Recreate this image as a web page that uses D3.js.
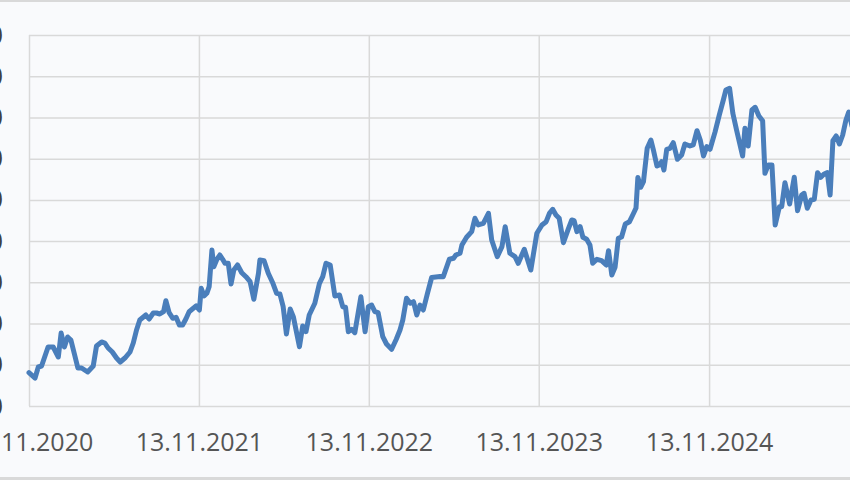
<!DOCTYPE html>
<html>
<head>
<meta charset="utf-8">
<script src="https://cdn.jsdelivr.net/npm/d3@7"></script>
<style>
  html, body { margin: 0; padding: 0; background: #f9fafc; }
  svg { display: block; }
</style>
</head>
<body>
<svg id="chart" width="850" height="480"></svg>
<script>
// ---- data ----
const startDate = "2020-11-13";
const endDate = "2025-11-13";
// days since 13.11.2020
const dayOffsets = [0,13,20,27,41,52,63,69,76,83,90,97,105,113,126,138,145,156,163,170,179,188,196,206,217,224,231,238,251,258,267,274,281,289,294,301,309,316,323,330,337,344,353,359,366,370,376,382,387,393,397,403,410,416,421,428,434,440,448,457,466,475,483,493,496,505,514,524,532,539,546,553,561,568,581,588,595,602,614,624,631,638,647,657,667,674,680,686,693,700,713,722,729,736,743,750,760,768,779,789,797,803,811,819,826,833,840,847,856,865,883,890,903,912,917,926,930,940,951,958,965,976,987,994,1006,1016,1023,1033,1044,1051,1064,1078,1091,1102,1111,1118,1125,1132,1139,1148,1159,1166,1171,1177,1184,1190,1198,1205,1211,1220,1230,1240,1245,1252,1259,1266,1273,1281,1290,1298,1304,1308,1314,1320,1328,1336,1341,1349,1354,1359,1364,1370,1377,1384,1393,1402,1409,1420,1427,1435,1442,1449,1456,1463,1474,1483,1492,1497,1505,1512,1520,1533,1538,1545,1553,1560,1568,1576,1581,1588,1596,1603,1612,1617,1624,1634,1644,1651,1660,1665,1672,1680,1687,1694,1701,1708,1715,1721,1727,1734,1741,1748,1755,1761,1768,1777];
const values = [8.08,6.79,9.46,9.70,14.31,14.31,11.89,17.71,14.31,16.74,16.01,12.86,9.22,9.22,8.25,9.70,14.56,15.53,15.28,14.07,13.10,11.64,10.67,11.64,13.10,15.28,18.44,20.86,22.08,21.11,22.56,22.56,22.32,22.88,25.55,22.63,21.28,21.52,19.65,19.65,21.11,22.88,23.70,24.26,23.29,28.55,26.69,27.34,28.94,37.85,33.79,35.42,36.63,35.59,34.62,34.62,29.60,32.99,34.21,32.34,31.37,30.16,25.89,32.19,35.42,35.25,32.19,29.77,27.34,27.17,24.09,17.47,23.53,21.59,14.39,19.41,18.03,22.08,24.92,29.77,31.37,34.62,34.21,26.69,26.93,24.09,23.94,18.03,18.61,17.78,26.52,18.03,24.09,24.50,22.88,22.63,16.81,15.04,13.76,16.18,18.44,20.86,26.13,24.92,25.30,22.08,24.50,23.29,27.34,31.17,31.42,31.37,35.59,35.83,36.63,37.05,39.06,40.93,42.29,45.54,43.91,44.32,46.75,40.27,36.22,38.65,43.50,37.05,36.22,34.62,38.02,32.99,41.90,43.91,44.71,46.75,47.72,46.34,45.54,39.62,43.11,45.12,44.95,42.29,43.50,40.93,40.44,39.06,34.62,35.59,35.25,34.21,37.68,31.78,33.65,40.68,41.00,44.15,44.71,46.58,48.03,55.43,53.06,54.42,62.52,64.53,62.28,58.22,58.47,59.27,57.25,62.28,62.52,63.88,59.85,60.89,63.56,63.08,63.32,66.79,64.53,60.65,62.91,62.28,66.55,70.60,74.41,76.66,77.07,71.01,66.96,60.65,67.37,63.08,71.81,72.46,70.35,69.21,56.45,58.47,58.47,43.91,48.35,48.35,54.17,49.01,55.48,47.38,51.19,51.60,47.96,49.98,50.15,56.60,55.48,56.28,56.60,51.19,64.36,65.50,63.56,65.74,69.38,71.32,67.93,69.87];
const yTicks = [0,10,20,30,40,50,60,70,80,90];
const xTickLabels = ["13.11.2020","13.11.2021","13.11.2022","13.11.2023","13.11.2024"];

// ---- layout ----
const W = 850, H = 480;
const plot = { left: 29, right: 879, top: 35, bottom: 406 };
const gridColor = "#d9d9d9";
const textColor = "#555555";
const lineColor = "#4a7ebb";
const font = "'Open Sans', 'Liberation Sans', sans-serif";

const parse = d3.timeParse("%Y-%m-%d");
const parseLabel = d3.timeParse("%d.%m.%Y");
const t0 = parse(startDate), t1 = parse(endDate);
const data = dayOffsets.map((d, i) => ({ date: d3.timeDay.offset(t0, d), value: values[i] }));
const xTicks = xTickLabels.map(parseLabel);

const x = d3.scaleTime().domain([t0, t1]).range([plot.left, plot.right]);
const y = d3.scaleLinear().domain([0, 90]).range([plot.bottom, plot.top]);

const svg = d3.select("#chart");
svg.append("rect").attr("width", W).attr("height", H).attr("fill", "#f9fafc");

// horizontal gridlines
svg.append("g")
  .attr("transform", `translate(${plot.left},0)`)
  .call(d3.axisLeft(y).tickValues(yTicks).tickSize(-(plot.right - plot.left)).tickFormat(""))
  .call(g => g.select(".domain").remove())
  .call(g => g.selectAll(".tick line").attr("stroke", gridColor).attr("stroke-width", 1.5));

// vertical gridlines
svg.append("g")
  .attr("transform", `translate(0,${plot.bottom})`)
  .call(d3.axisBottom(x).tickValues(xTicks).tickSize(-(plot.bottom - plot.top)).tickFormat(""))
  .call(g => g.select(".domain").remove())
  .call(g => g.selectAll(".tick line").attr("stroke", gridColor).attr("stroke-width", 1.5));

// y labels (right-aligned, mostly outside the picture, as in the reference)
svg.append("g")
  .attr("transform", `translate(3,0)`)
  .call(d3.axisLeft(y).tickValues(yTicks).tickSize(0).tickPadding(0))
  .call(g => g.select(".domain").remove())
  .call(g => g.selectAll("text").attr("fill", "#404040").attr("font-size", 25).attr("font-family", font));

// x labels
svg.append("g")
  .attr("transform", `translate(0,${plot.bottom})`)
  .call(d3.axisBottom(x).tickValues(xTicks).tickSize(0).tickPadding(27).tickFormat(d3.timeFormat("%d.%m.%Y")))
  .call(g => g.select(".domain").remove())
  .call(g => g.selectAll("text").attr("fill", textColor).attr("font-size", 25).attr("font-family", font));

// series line
const line = d3.line().x(d => x(d.date)).y(d => y(d.value));
svg.append("path")
  .datum(data)
  .attr("d", line)
  .attr("fill", "none")
  .attr("stroke", lineColor)
  .attr("stroke-width", 5)
  .attr("stroke-linejoin", "round")
  .attr("stroke-linecap", "round");

// outer frame edges (top and bottom)
svg.append("line").attr("x1", 0).attr("x2", W).attr("y1", 1).attr("y2", 1)
  .attr("stroke", gridColor).attr("stroke-width", 2);
svg.append("line").attr("x1", 0).attr("x2", W).attr("y1", 478.5).attr("y2", 478.5)
  .attr("stroke", gridColor).attr("stroke-width", 3);
</script>
</body>
</html>
